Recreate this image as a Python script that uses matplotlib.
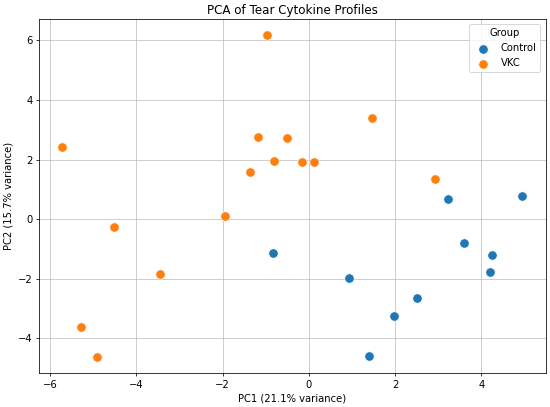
import matplotlib
matplotlib.use("Agg")
import matplotlib.pyplot as plt

control_pc1 = [-0.83, 0.92, 1.40, 1.98, 2.51, 3.22, 3.59, 4.20, 4.25, 4.95]
control_pc2 = [-1.13, -1.97, -4.58, -3.24, -2.64, 0.68, -0.79, -1.76, -1.20, 0.78]
vkc_pc1 = [-5.72, -5.29, -4.90, -4.52, -3.44, -1.94, -1.37, -1.19, -0.98,
           -0.80, -0.51, -0.17, 0.12, 1.46, 2.93]
vkc_pc2 = [2.44, -3.62, -4.63, -0.26, -1.85, 0.12, 1.60, 2.75, 6.17,
           1.97, 2.72, 1.92, 1.92, 3.41, 1.36]

DPI = 68.75
fig = plt.figure(figsize=(550 / DPI, 407 / DPI), dpi=DPI)
ax = fig.add_axes([39 / 550, 1 - 373.3 / 407, (545.5 - 39) / 550, (373.3 - 19.3) / 407])

ax.scatter(control_pc1, control_pc2, s=95, color="#1f77b4", edgecolor="white",
           linewidth=0.6, label="Control", zorder=3)
ax.scatter(vkc_pc1, vkc_pc2, s=95, color="#ff7f0e", edgecolor="white",
           linewidth=0.6, label="VKC", zorder=3)

ax.set_title("PCA of Tear Cytokine Profiles", fontsize=12.5)
ax.set_xlabel("PC1 (21.1% variance)", fontsize=10.5)
ax.set_ylabel("PC2 (15.7% variance)", fontsize=10.5)
ax.tick_params(labelsize=10.5)
ax.grid(True, alpha=0.8)
ax.legend(title="Group", loc="upper right", fontsize=10.5, title_fontsize=10.5)

fig.savefig("out.png", dpi=DPI)
